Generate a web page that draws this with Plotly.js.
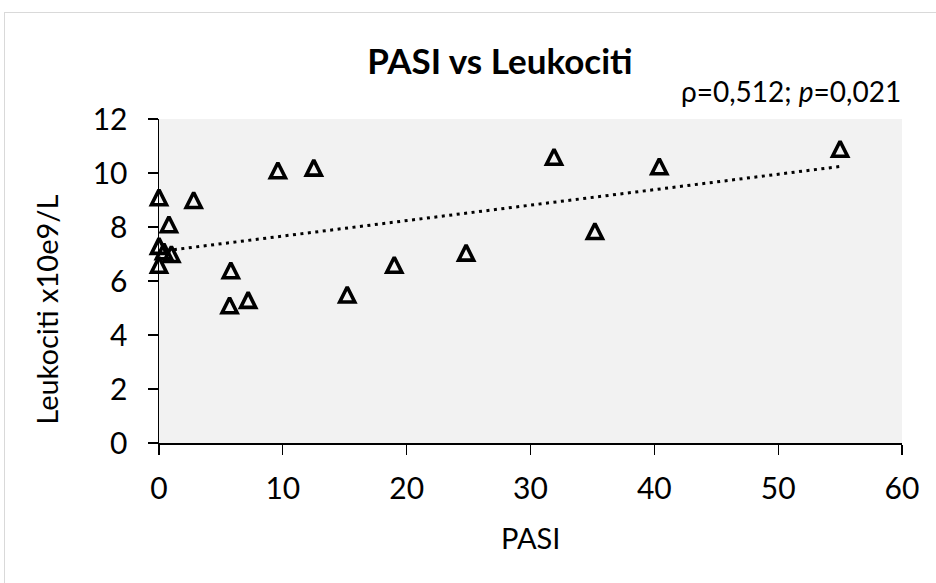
<!DOCTYPE html>
<html>
<head>
<meta charset="utf-8">
<script src="https://cdn.plot.ly/plotly-3.0.1.min.js"></script>
<style>
  html, body { margin: 0; padding: 0; background: #ffffff; overflow: hidden; }
  #chart { width: 936px; height: 583px; }
  #frame { position: absolute; left: 4px; top: 12px; width: 2000px; height: 2000px;
           border: 1px solid #d9d9d9; pointer-events: none; }
</style>
</head>
<body>
<div id="chart"></div>
<div id="frame"></div>
<script>
// PASI score for each patient
const pasi = [0, 0, 0, 0.8, 0.4, 1.0, 2.8, 5.7, 5.8, 7.2, 9.6, 12.5, 15.2, 19.0, 24.8, 31.9, 35.2, 40.4, 55.0];
// Leukocyte count (x10e9/L)
const leukociti = [9.1, 7.3, 6.6, 8.1, 7.1, 7.0, 9.0, 5.1, 6.4, 5.3, 10.1, 10.2, 5.5, 6.6, 7.05, 10.6, 7.85, 10.25, 10.9];

const xTickVals = [0, 10, 20, 30, 40, 50, 60];
const yTickVals = [0, 2, 4, 6, 8, 10, 12];

const chartTitle = 'PASI vs Leukociti';
const xTitle = 'PASI';
const yTitle = 'Leukociti x10e9/L';
const statsText = 'ρ=0,512; <i>p</i>=0,021';

// Linear least-squares trendline (as in a spreadsheet's linear trendline)
const n = pasi.length;
const mx = pasi.reduce((a, b) => a + b, 0) / n;
const my = leukociti.reduce((a, b) => a + b, 0) / n;
let sxy = 0, sxx = 0;
for (let i = 0; i < n; i++) { sxy += (pasi[i] - mx) * (leukociti[i] - my); sxx += (pasi[i] - mx) ** 2; }
const slope = sxy / sxx;
const intercept = my - slope * mx;
const xMin = Math.min(...pasi), xMax = Math.max(...pasi);
const trendX = [xMin, xMax];
const trendY = trendX.map(x => intercept + slope * x);

const FONT = 'Lato, "Open Sans", sans-serif';
const markerSize = 15;

const traces = [
  {
    x: trendX, y: trendY, type: 'scatter', mode: 'lines',
    line: { color: '#000000', width: 3, dash: '3px,4.5px' },
    hoverinfo: 'skip', showlegend: false, cliponaxis: false
  },
  {
    x: pasi, y: leukociti, type: 'scatter', mode: 'markers',
    marker: {
      symbol: 'arrow-down-open', angle: 180, standoff: markerSize / 2,
      size: markerSize, color: '#000000',
      line: { color: '#000000', width: 3.6 }
    },
    showlegend: false, cliponaxis: false
  }
];

const axisCommon = {
  showgrid: false, zeroline: false, showline: true,
  linecolor: '#000000', linewidth: 1.5,
  ticks: 'outside', ticklen: 10, tickwidth: 1.3, tickcolor: '#000000',
  tickfont: { family: FONT, size: 30, color: '#000000' },
  fixedrange: true
};

const layout = {
  width: 936, height: 583,
  margin: { l: 159, r: 34, t: 119, b: 140, pad: 0 },
  paper_bgcolor: '#ffffff',
  plot_bgcolor: '#f2f2f2',
  showlegend: false,
  title: {
    text: '<b>' + chartTitle + '</b>',
    font: { family: FONT, size: 35, color: '#000000' },
    x: 500 / 936, xanchor: 'center', xref: 'container',
    y: 1 - 62 / 583, yanchor: 'middle', yref: 'container'
  },
  xaxis: Object.assign({}, axisCommon, {
    range: [0, 60], tickvals: xTickVals, ticktext: xTickVals.map(String),
    ticklabelstandoff: 8
  }),
  yaxis: Object.assign({}, axisCommon, {
    range: [0, 12], tickvals: yTickVals, ticktext: yTickVals.map(String),
    ticklabelstandoff: 14
  }),
  annotations: [
    {
      text: statsText, xref: 'paper', yref: 'paper',
      x: (903 - 159) / 743, y: (443.3 - 91) / 324, xanchor: 'right', yanchor: 'middle',
      showarrow: false, font: { family: FONT, size: 28, color: '#000000' }
    },
    {
      text: xTitle, xref: 'paper', yref: 'paper',
      x: 0.5, y: (443.3 - 538) / 324, xanchor: 'center', yanchor: 'middle',
      showarrow: false, font: { family: FONT, size: 29, color: '#000000' }
    },
    {
      text: yTitle, xref: 'paper', yref: 'paper', textangle: -90,
      x: (47 - 159) / 743, y: (443.3 - 310) / 324, xanchor: 'center', yanchor: 'middle',
      showarrow: false, font: { family: FONT, size: 29, color: '#000000' }
    }
  ]
};

Plotly.newPlot('chart', traces, layout, { displayModeBar: false, staticPlot: true });
</script>
</body>
</html>
